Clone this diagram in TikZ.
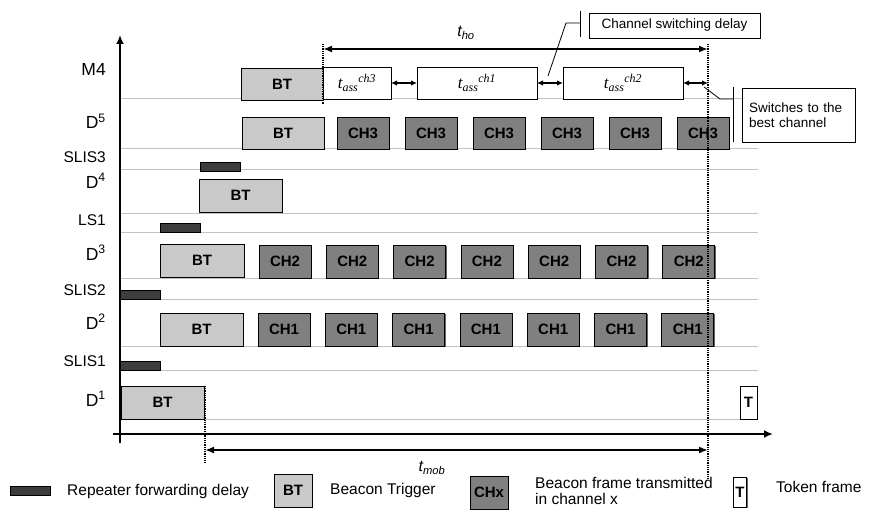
\documentclass[tikz,border=0pt]{standalone}
\usepackage{fontspec}
\setmainfont{Liberation Sans}
\newfontfamily\serifit{Liberation Serif}
\usetikzlibrary{arrows.meta,shadows}

\definecolor{btgray}{gray}{0.79}
\definecolor{chgray}{gray}{0.50}
\definecolor{repgray}{gray}{0.24}
\definecolor{gridgray}{gray}{0.76}

% association time label: t with subscript "ass" and a channel superscript
\newcommand\tassof[1]{{\serifit\itshape\fontsize{17}{20}\selectfont t\textsubscript{ass}\textsuperscript{#1}}}

\tikzset{
  frame/.style={draw=black, line width=0.8pt, inner sep=0pt, outer sep=0pt,
    general shadow={fill=black!60, shadow xshift=1pt, shadow yshift=-1pt}},
  btbox/.style={frame, fill=btgray, font=\bfseries\fontsize{15}{18}\selectfont,
    minimum width=83pt, minimum height=33pt},
  chbox/.style={frame, fill=chgray, font=\bfseries\fontsize{15}{18}\selectfont,
    minimum width=52pt, minimum height=33pt},
  repbar/.style={frame, fill=repgray, minimum width=40pt, minimum height=9pt},
  tassbox/.style={frame, fill=white, minimum height=32pt},
  tokbox/.style={frame, fill=white, font=\bfseries\fontsize{15}{18}\selectfont,
    minimum width=17pt, minimum height=33pt},
  rowlbl/.style={anchor=base east, inner sep=0pt, font=\fontsize{15.5}{18}\selectfont},
  devlbl/.style={rowlbl, font=\fontsize{17.5}{20}\selectfont},
  gridln/.style={draw=gridgray, line width=1pt},
  axis/.style={draw=black, line width=2.4pt, -{Latex[length=9pt,width=8pt]}},
  span/.style={draw=black, line width=2pt,
    {Latex[length=9pt,width=7pt]}-{Latex[length=9pt,width=7pt]}},
  gap/.style={draw=black, line width=1.6pt,
    {Latex[length=6pt,width=5.5pt]}-{Latex[length=6pt,width=5.5pt]}},
  marker/.style={draw=black, line width=1.2pt, dash pattern=on 1pt off 0.8pt},
  callout/.style={draw=black, line width=0.8pt},
  notebox/.style={draw=black, line width=0.8pt, fill=white, inner sep=0pt,
    font=\fontsize{13.5}{15.5}\selectfont},
  legtext/.style={anchor=west, inner sep=0pt, font=\fontsize{15.5}{17}\selectfont},
}

\begin{document}
\begin{tikzpicture}[x=1pt,y=-1pt]
\useasboundingbox (0,0) rectangle (869,513);

% row separators
\foreach \yy in {99,149,170,213,232,278,299,346,370,419}
  \draw[gridln] (120,\yy) -- (758,\yy);

% row labels
\node[devlbl] (lm4)    at (106,76)  {M4};
\node[devlbl] (ld5)    at (106,129) {D\textsuperscript{5}};
\node[rowlbl] (lslis3) at (106,163) {SLIS3};
\node[devlbl] (ld4)    at (106,188) {D\textsuperscript{4}};
\node[rowlbl] (lls1)   at (106,225) {LS1};
\node[devlbl] (ld3)    at (106,260) {D\textsuperscript{3}};
\node[rowlbl] (lslis2) at (106,295) {SLIS2};
\node[devlbl] (ld2)    at (106,329) {D\textsuperscript{2}};
\node[rowlbl] (lslis1) at (106,366) {SLIS1};
\node[devlbl] (ld1)    at (106,406) {D\textsuperscript{1}};

% M4: beacon trigger followed by association attempts on each channel
\node[btbox, minimum width=82pt, minimum height=32pt] (m4bt) at (282,84) {BT};
\node[tassbox, minimum width=68pt]  (tass3) at (357,83) {\tassof{ch3}};
\node[tassbox, minimum width=120pt] (tass1) at (477,83) {\tassof{ch1}};
\node[tassbox, minimum width=120pt] (tass2) at (623,83) {\tassof{ch2}};
\coordinate (sw) at (708,83);
\draw[gap] (tass3.east) -- (tass1.west);
\draw[gap] (tass1.east) -- (tass2.west);
\draw[gap] (tass2.east) -- (sw);

% D5
\node[btbox, minimum width=82pt, minimum height=32pt] (d5bt) at (283,133) {BT};
\foreach \i [count=\k] in {0,...,5}
  \node[chbox, minimum height=32pt] (d5ch\k) at ({363+68*\i},133.5) {CH3};

% SLIS3, D4, LS1
\node[repbar] (slis3bar) at (220,166.5) {};
\node[btbox] (d4bt) at (240.5,195.5) {BT};
\node[repbar] (ls1bar) at (180,227.5) {};

% D3
\node[btbox, minimum width=84pt] (d3bt) at (202,260.5) {BT};
\foreach \i [count=\k] in {0,...,6}
  \node[chbox] (d3ch\k) at ({285+67.3*\i},261.5) {CH2};

% SLIS2, D2
\node[repbar] (slis2bar) at (140,294.5) {};
\node[btbox] (d2bt) at (201.5,329.5) {BT};
\foreach \i [count=\k] in {0,...,6}
  \node[chbox] (d2ch\k) at ({284+67.3*\i},329.5) {CH1};

% SLIS1, D1
\node[repbar] (slis1bar) at (140,365.5) {};
\node[btbox] (d1bt) at (162.5,402.5) {BT};
\node[tokbox] (tok) at (748.5,402.5) {T};

% axes
\coordinate (ybot) at (120,443);
\coordinate (ytop) at (120,35);
\coordinate (xl) at (113,434);
\coordinate (xr) at (773,434);
\draw[axis] (ybot) -- (ytop);
\draw[axis] (xl) -- (xr);

% time markers
\coordinate (hoA) at (323,44);
\coordinate (hoB) at (323,104);
\coordinate (endA) at (708,44);
\coordinate (endB) at (708,478);
\coordinate (mobA) at (205,386);
\coordinate (mobB) at (205,462);
\draw[marker] (hoA) -- (hoB);
\draw[marker] (endA) -- (endB);
\draw[marker] (mobA) -- (mobB);

% handover time
\coordinate (ho1) at (323,49);
\coordinate (ho2) at (708,49);
\draw[span] (ho1) -- (ho2);
\node[font=\itshape\fontsize{16}{18}\selectfont, inner sep=0pt] (tho) at (466,33) {t\textsubscript{ho}};

% mobility time
\coordinate (mob1) at (205,450);
\coordinate (mob2) at (708,450);
\draw[span] (mob1) -- (mob2);
\node[font=\itshape\fontsize{16}{18}\selectfont, inner sep=0pt] (tmob) at (432,468) {t\textsubscript{mob}};

% callout: channel switching delay
\node[notebox, minimum width=171pt, minimum height=25pt] (csd) at (674.5,25.5) {Channel switching delay};
\coordinate (csdbarT) at (580,11);
\coordinate (csdbarB) at (580,37);
\coordinate (csdk1) at (566,23);
\coordinate (csdk0) at (580,23);
\coordinate (csdtip) at (548,76);
\draw[callout] (csdbarT) -- (csdbarB);
\draw[callout] (csdk0) -- (csdk1) -- (csdtip);

% callout: switches to the best channel
\node[notebox, minimum width=113pt, minimum height=54pt, align=left, text width=99pt]
  (best) at (798.5,115) {Switches to the\\best channel};
\coordinate (bestbarT) at (733,87);
\coordinate (bestbarB) at (733,142);
\coordinate (bestk0) at (733,99);
\coordinate (bestk1) at (720,99);
\coordinate (besttip) at (704,87);
\draw[callout] (bestbarT) -- (bestbarB);
\draw[callout] (bestk0) -- (bestk1) -- (besttip);

% legend
\node[repbar] (kbar) at (30,490.5) {};
\node[legtext] (kbartxt) at (67,491) {Repeater forwarding delay};
\node[btbox, minimum width=38pt] (kbt) at (293,490.5) {BT};
\node[legtext] (kbttxt) at (330,490) {Beacon Trigger};
\node[chbox, minimum width=38pt] (kch) at (489,492.5) {CHx};
\node[legtext, align=left, font=\fontsize{15.5}{16}\selectfont] (kchtxt) at (535,491)
  {Beacon frame transmitted\\in channel x};
\node[tokbox, minimum width=13pt, minimum height=30pt] (ktok) at (740,492) {T};
\node[legtext] (ktoktxt) at (776,487) {Token frame};
\end{tikzpicture}
\end{document}
